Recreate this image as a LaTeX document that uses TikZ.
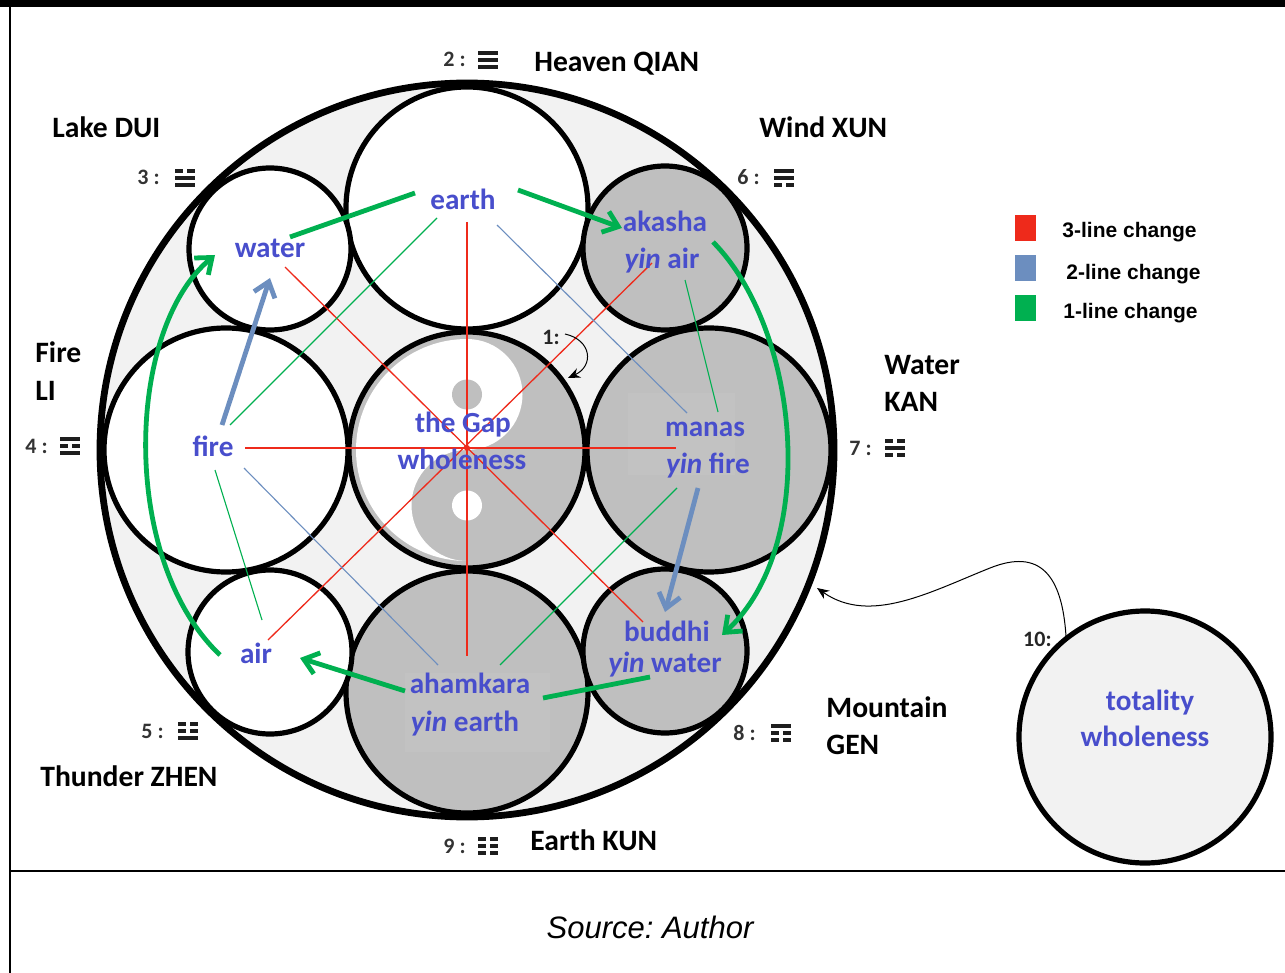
\documentclass[tikz,border=0pt]{standalone}
\usepackage{fontspec}
\setmainfont{Carlito}
\newfontfamily\arialfont{Liberation Sans}
\usetikzlibrary{arrows.meta}
\definecolor{lbl}{RGB}{72,78,204}
\definecolor{redc}{RGB}{238,42,27}
\definecolor{bluec}{RGB}{108,142,191}
\definecolor{greenc}{RGB}{0,176,80}
\definecolor{disc}{RGB}{191,191,191}
\definecolor{discpale}{RGB}{194,194,194}
\definecolor{pale}{RGB}{242,242,242}
\definecolor{barc}{RGB}{30,30,30}
% one line of a trigram: x, y, 1 = whole line, 0 = broken line
\newcommand\trigbar[3]{%
  \ifnum#3=1
    \fill[barc] (#1-10,#2-2) rectangle (#1+10,#2+2);
  \else
    \fill[barc] (#1-10,#2-2) rectangle (#1-1.8,#2+2);
    \fill[barc] (#1+1.8,#2-2) rectangle (#1+10,#2+2);
  \fi}
% a trigram centred on x, y with its lines given from top to bottom
\newcommand\trigram[5]{%
  \trigbar{#1}{#2-7}{#3}\trigbar{#1}{#2}{#4}\trigbar{#1}{#2+7}{#5}}
\begin{document}
\begin{tikzpicture}[x=0.5pt,y=-0.5pt,
  ring/.style={circle,draw=black,line width=2.6pt,inner sep=0pt,minimum size=#1},
  elem/.style={text=lbl,font=\fontsize{14.6}{16}\selectfont\bfseries,inner sep=0pt,anchor=base},
  gua/.style={font=\fontsize{14.8}{17}\selectfont\bfseries,inner sep=0pt,anchor=base west},
  num/.style={font=\fontsize{11}{13}\selectfont\bfseries,text=black!80,inner sep=0pt,anchor=base east},
  leg/.style={font=\arialfont\fontsize{10.5}{12}\selectfont\bfseries,inner sep=0pt,anchor=base west},
  sq/.style={inner sep=0pt,minimum width=10.5pt,minimum height=13pt},
  thinred/.style={draw=redc,line width=0.65pt},
  thinblue/.style={draw=bluec,line width=0.55pt},
  thingreen/.style={draw=greenc,line width=0.55pt},
  gthick/.style={draw=greenc,line width=2.4pt},
  bthick/.style={draw=bluec,line width=2.4pt},
  barb/.style={-{Straight Barb[length=7pt,width=11pt]}},
  thinarrow/.style={draw=black,line width=0.5pt,-{Stealth[length=6pt,width=5pt]}}
]
\useasboundingbox (0,0) rectangle (1285,973);
\fill[white] (0,0) rectangle (1285,973);

% page frame
\fill[black] (0,0) rectangle (1285,7);
\draw[line width=1pt] (10,0) -- (10,973);
\draw[line width=1pt] (10,871) -- (1285,871);

% the enclosing circle and the nine discs
\node[ring=367pt,line width=3.4pt,fill=pale] (outer) at (467,450) {};
\node[ring=118pt,fill=disc] (gapc) at (467,450) {};
\node[ring=121pt,fill=white] (earthc) at (467,208) {};
\node[ring=121pt,fill=disc] (ahamc) at (467,692) {};
\node[ring=122pt,fill=white] (firec) at (226,450) {};
\node[ring=122pt,fill=disc] (manasc) at (709,450) {};
\node[ring=81pt,fill=white] (waterc) at (270,249) {};
\node[ring=82pt,fill=disc] (akashac) at (665,248) {};
\node[ring=82pt,fill=white] (airc) at (270,652) {};
\node[ring=82pt,fill=disc] (buddhic) at (665,651) {};

% yin-yang in the centre disc
\fill[white] (467,339) arc[start angle=-90,end angle=-270,radius=111]
  arc[start angle=90,end angle=270,radius=55.5]
  arc[start angle=90,end angle=-90,radius=55.5] -- cycle;
\fill[disc] (467,394.5) circle[radius=15];
\fill[white] (467,505.5) circle[radius=15];

% faint panels behind the grey labels
\fill[discpale] (628,393) rectangle (735,475);
\fill[discpale] (405,673) rectangle (550,752);

% end points of the connectors
\coordinate (hub) at (467,448);
\coordinate (rT) at (467,222);
\coordinate (rB) at (467,656);
\coordinate (rL) at (245,448);
\coordinate (rR) at (676,448);
\coordinate (rWa) at (285,267);
\coordinate (rBu) at (643,622);
\coordinate (rAk) at (652,263);
\coordinate (rAi) at (268,640);
\coordinate (bEa) at (497,225);
\coordinate (bMa) at (687,413);
\coordinate (bFi) at (244,468);
\coordinate (bAh) at (438,665);
\coordinate (gEa) at (437,218);
\coordinate (gFi) at (230,425);
\coordinate (gAk) at (685,280);
\coordinate (gMa) at (718,412);
\coordinate (gFi2) at (215,470);
\coordinate (gAi) at (262,620);
\coordinate (gMa2) at (677,488);
\coordinate (gAh) at (500,665);

% 3-line changes
\draw[thinred] (rT) -- (rB);
\draw[thinred] (rL) -- (rR);
\draw[thinred] (rWa) -- (rBu);
\draw[thinred] (rAk) -- (rAi);
\fill[redc] (hub) circle[radius=3];
% 2-line changes
\draw[thinblue] (bEa) -- (bMa);
\draw[thinblue] (bFi) -- (bAh);
% 1-line changes
\draw[thingreen] (gEa) -- (gFi);
\draw[thingreen] (gAk) -- (gMa);
\draw[thingreen] (gFi2) -- (gAi);
\draw[thingreen] (gMa2) -- (gAh);

% thick cycle of 1-line steps
\coordinate (tEaL) at (415,193);
\coordinate (tWaR) at (290,237);
\coordinate (tEaR) at (518,190);
\coordinate (tAkL) at (622,228);
\coordinate (tAkB) at (713,242);
\coordinate (tBuR) at (722,635);
\coordinate (tBuL) at (650,677);
\coordinate (tAhR) at (543,698);
\coordinate (tAhL) at (405,691);
\coordinate (tAiR) at (300,658);
\coordinate (tAiL) at (220,655);
\coordinate (tWaL) at (215,255);
\draw[gthick] (tEaL) -- (tWaR);
\draw[gthick,barb] (tEaR) -- (tAkL);
\draw[gthick,barb] (tAkB) .. controls (800,330) and (820,545) .. (tBuR);
\draw[gthick] (tBuL) -- (tAhR);
\draw[gthick,barb] (tAhL) -- (tAiR);
\draw[gthick,barb] (tAiL) .. controls (120,560) and (125,330) .. (tWaL);

% thick 2-line steps
\coordinate (tFiU) at (222,425);
\coordinate (tWaD) at (270,278);
\coordinate (tMaD) at (698,488);
\coordinate (tBuU) at (665,612);
\draw[bthick,barb] (tFiU) -- (tWaD);
\draw[bthick,barb] (tMaD) -- (tBuU);

% element labels
\node[elem] (lwater) at (270,258) {water};
\node[elem] (learth) at (463,210) {earth};
\node[elem] (lakasha) at (665,232) {akasha};
\node[elem] (lyinair) at (662,269) {{\itshape yin} air};
\node[elem] (lfire) at (213,456) {fire};
\node[elem] (lgap) at (463,432) {the Gap};
\node[elem] (lwhole) at (462,469) {wholeness};
\node[elem] (lmanas) at (705,436) {manas};
\node[elem] (lyinfire) at (708,473) {{\itshape yin} fire};
\node[elem] (lair) at (256,663) {air};
\node[elem] (lbuddhi) at (667,641) {buddhi};
\node[elem] (lyinwater) at (665,672) {{\itshape yin} water};
\node[elem] (laham) at (470,693) {ahamkara};
\node[elem] (lyinearth) at (465,731) {{\itshape yin} earth};

% trigram names
\node[gua] (nqian) at (534,72) {Heaven QIAN};
\node[gua] (ndui) at (52,138) {Lake DUI};
\node[gua] (nxun) at (759,138) {Wind XUN};
\node[gua] (nli1) at (35,363) {Fire};
\node[gua] (nli2) at (35,400) {LI};
\node[gua] (nkan1) at (884,374) {Water};
\node[gua] (nkan2) at (884,411) {KAN};
\node[gua] (nzhen) at (40,786) {Thunder ZHEN};
\node[gua] (ngen1) at (826,717) {Mountain};
\node[gua] (ngen2) at (826,754) {GEN};
\node[gua] (nkun) at (530,850) {Earth KUN};

% numbers and trigram signs
\node[num] (n2) at (466,67) {2 :};
\trigram{488}{60}{1}{1}{1}
\node[num] (n3) at (160,185) {3 :};
\trigram{185}{178}{0}{1}{1}
\node[num] (n6) at (760,185) {6 :};
\trigram{784}{178}{1}{1}{0}
\node[num] (n4) at (48,453) {4 :};
\trigram{70}{446}{1}{0}{1}
\node[num] (n7) at (872,455) {7 :};
\trigram{895}{448}{0}{1}{0}
\node[num] (n5) at (164,738) {5 :};
\trigram{188}{731}{0}{0}{1}
\node[num] (n8) at (756,740) {8 :};
\trigram{781}{733}{1}{0}{0}
\node[num] (n9) at (466,853) {9 :};
\trigram{488}{846}{0}{0}{0}

% the Gap marker
\node[num,text=black!85] (n1) at (560,344) {1:};
\coordinate (a1s) at (565,334);
\coordinate (a1e) at (568,378);
\draw[thinarrow] (a1s) .. controls (592,340) and (594,366) .. (a1e);

% totality
\node[ring=126pt,fill=pale] (totc) at (1145,737) {};
\node[elem] (ltot1) at (1150,710) {totality};
\node[elem] (ltot2) at (1145,746) {wholeness};
\node[num,text=black!85] (n10) at (1052,646) {10:};
\coordinate (a10s) at (1066,636);
\coordinate (a10m) at (990,568);
\coordinate (a10e) at (817,588);
\draw[thinarrow] (a10s) .. controls (1062,575) and (1040,548) .. (a10m)
  .. controls (930,592) and (870,625) .. (a10e);

% legend
\node[sq,fill=redc] (k3) at (1025,228) {};
\node[leg] (l3) at (1062,238) {3-line change};
\node[sq,fill=bluec] (k2) at (1025,268) {};
\node[leg] (l2) at (1066,279) {2-line change};
\node[sq,fill=greenc] (k1) at (1025,308) {};
\node[leg] (l1) at (1063,319) {1-line change};

% caption
\node[font=\arialfont\itshape\fontsize{15.5}{18}\selectfont,inner sep=0pt,anchor=base] (src) at (650,938) {Source:\ Author};
\end{tikzpicture}
\end{document}
